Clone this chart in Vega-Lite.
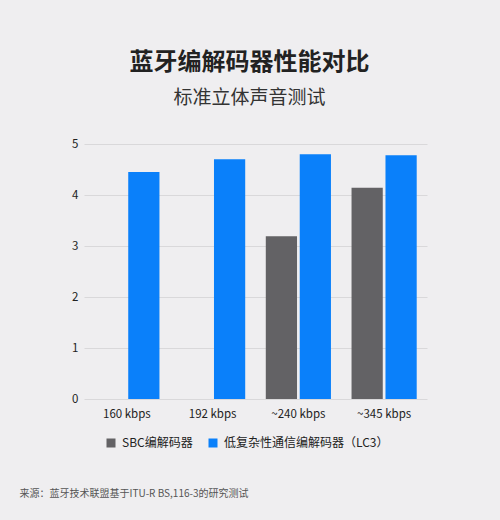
{
  "$schema": "https://vega.github.io/schema/vega-lite/v6.json",
  "width": 343,
  "height": 255,
  "autosize": {"type": "none"},
  "padding": {"left": 84, "top": 144, "right": 73, "bottom": 121},
  "background": "#efeef0",
  "title": {
    "text": "蓝牙编解码器性能对比",
    "subtitle": "标准立体声音测试",
    "anchor": "middle",
    "dx": -6,
    "offset": 30,
    "font": "Noto Sans CJK SC",
    "fontSize": 24,
    "fontWeight": "bold",
    "color": "#222222",
    "subtitleFont": "Noto Sans CJK SC",
    "subtitleFontSize": 19,
    "subtitleColor": "#333333",
    "subtitlePadding": 14
  },
  "data": {
    "values": [
      {"rate": "160 kbps", "codec": "SBC编解码器", "score": null},
      {"rate": "160 kbps", "codec": "低复杂性通信编解码器（LC3）", "score": 4.45},
      {"rate": "192 kbps", "codec": "低复杂性通信编解码器（LC3）", "score": 4.7},
      {"rate": "~240 kbps", "codec": "SBC编解码器", "score": 3.19},
      {"rate": "~240 kbps", "codec": "低复杂性通信编解码器（LC3）", "score": 4.8},
      {"rate": "~345 kbps", "codec": "SBC编解码器", "score": 4.14},
      {"rate": "~345 kbps", "codec": "低复杂性通信编解码器（LC3）", "score": 4.78}
    ]
  },
  "mark": {"type": "bar"},
  "encoding": {
    "x": {
      "field": "rate",
      "type": "nominal",
      "sort": ["160 kbps", "192 kbps", "~240 kbps", "~345 kbps"],
      "scale": {"paddingInner": 0.24, "paddingOuter": 0.12},
      "axis": {
        "labelAngle": 0,
        "labelFontSize": 11.5,
        "labelColor": "#222222",
        "labelPadding": 9,
        "ticks": false,
        "domain": false,
        "title": "来源：蓝牙技术联盟基于ITU-R BS,116-3的研究测试",
        "titleFontSize": 10,
        "titleFontWeight": "normal",
        "titleColor": "#555555",
        "titleAnchor": "start",
        "titleAlign": "left",
        "titleBaseline": "middle",
        "titleX": -65,
        "titleY": 94
      }
    },
    "xOffset": {
      "field": "codec",
      "type": "nominal",
      "sort": ["SBC编解码器", "低复杂性通信编解码器（LC3）"],
      "scale": {"paddingInner": 0.08}
    },
    "y": {
      "field": "score",
      "type": "quantitative",
      "scale": {"domain": [0, 5]},
      "axis": {
        "tickCount": 5,
        "title": null,
        "ticks": false,
        "domain": false,
        "labelFontSize": 11.5,
        "labelColor": "#222222",
        "labelPadding": 6,
        "gridColor": "#d9d8da"
      }
    },
    "color": {
      "field": "codec",
      "type": "nominal",
      "sort": ["SBC编解码器", "低复杂性通信编解码器（LC3）"],
      "scale": {"range": ["#636265", "#0a80fa"]},
      "legend": {
        "title": null,
        "orient": "none",
        "direction": "horizontal",
        "legendX": 21,
        "legendY": 293,
        "symbolType": "square",
        "symbolSize": 81,
        "symbolStrokeWidth": 0,
        "symbolOpacity": 1,
        "labelFontSize": 12,
        "labelLimit": 300,
        "labelColor": "#222222",
        "labelOffset": 5,
        "columnPadding": 14
      }
    }
  },
  "config": {
    "font": "Noto Sans CJK SC",
    "view": {"stroke": null}
  }
}
